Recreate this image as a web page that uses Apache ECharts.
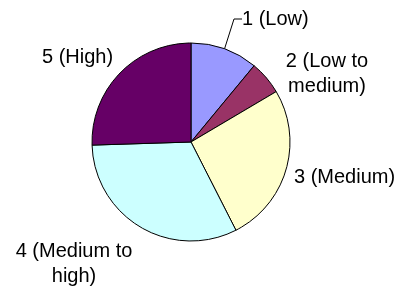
<!DOCTYPE html>
<html>
<head>
<meta charset="utf-8">
<script src="https://cdn.jsdelivr.net/npm/echarts@6/dist/echarts.min.js"></script>
<style>
  html, body { margin: 0; padding: 0; background: #fff; }
  #chart-container { width: 402px; height: 293px; }
</style>
</head>
<body>
<div id="chart-container"></div>
<script>
// categories (clockwise from 12 o'clock) and shares
const categories = ['1 (Low)', '2 (Low to\nmedium)', '3 (Medium)', '4 (Medium to\nhigh)', '5 (High)'];
const shares = [11, 5.5, 26, 32, 25.5];
const colors = ['#9999FF', '#993366', '#FFFFCC', '#CCFFFF', '#660066'];
const withLeader = [true, true, false, false, false];

// where each label sits (Excel had them dragged around by hand)
const labelSpots = [
    { x: 242, y: 19, align: 'left' },
    { x: 327, y: 74, align: 'center' },
    { x: 294, y: 177, align: 'left' },
    { x: 74, y: 264, align: 'center' },
    { x: 42, y: 57, align: 'left' }
];

const myChart = echarts.init(document.getElementById('chart-container'));

const option = {
    animation: false,
    series: [{
        type: 'pie',
        center: [191, 142],
        radius: 99,
        startAngle: 90,
        clockwise: true,
        silent: true,
        itemStyle: {
            borderColor: '#000',
            borderWidth: 1
        },
        label: {
            show: true,
            position: 'outside',
            color: '#000',
            fontFamily: 'Liberation Sans, Arial, sans-serif',
            fontSize: 20,
            lineHeight: 25,
            overflow: 'none',
            width: 200,
            formatter: '{b}'
        },
        labelLine: {
            lineStyle: { color: '#000', width: 1 },
            length: 10,
            length2: 8
        },
        labelLayout: function (params) {
            const s = labelSpots[params.dataIndex];
            return {
                x: s.x,
                y: s.y,
                align: s.align,
                verticalAlign: 'middle'
            };
        },
        data: categories.map((c, i) => ({
            name: c,
            value: shares[i],
            itemStyle: { color: colors[i] },
            labelLine: { show: withLeader[i] }
        }))
    }]
};

option && myChart.setOption(option);
</script>
</body>
</html>
